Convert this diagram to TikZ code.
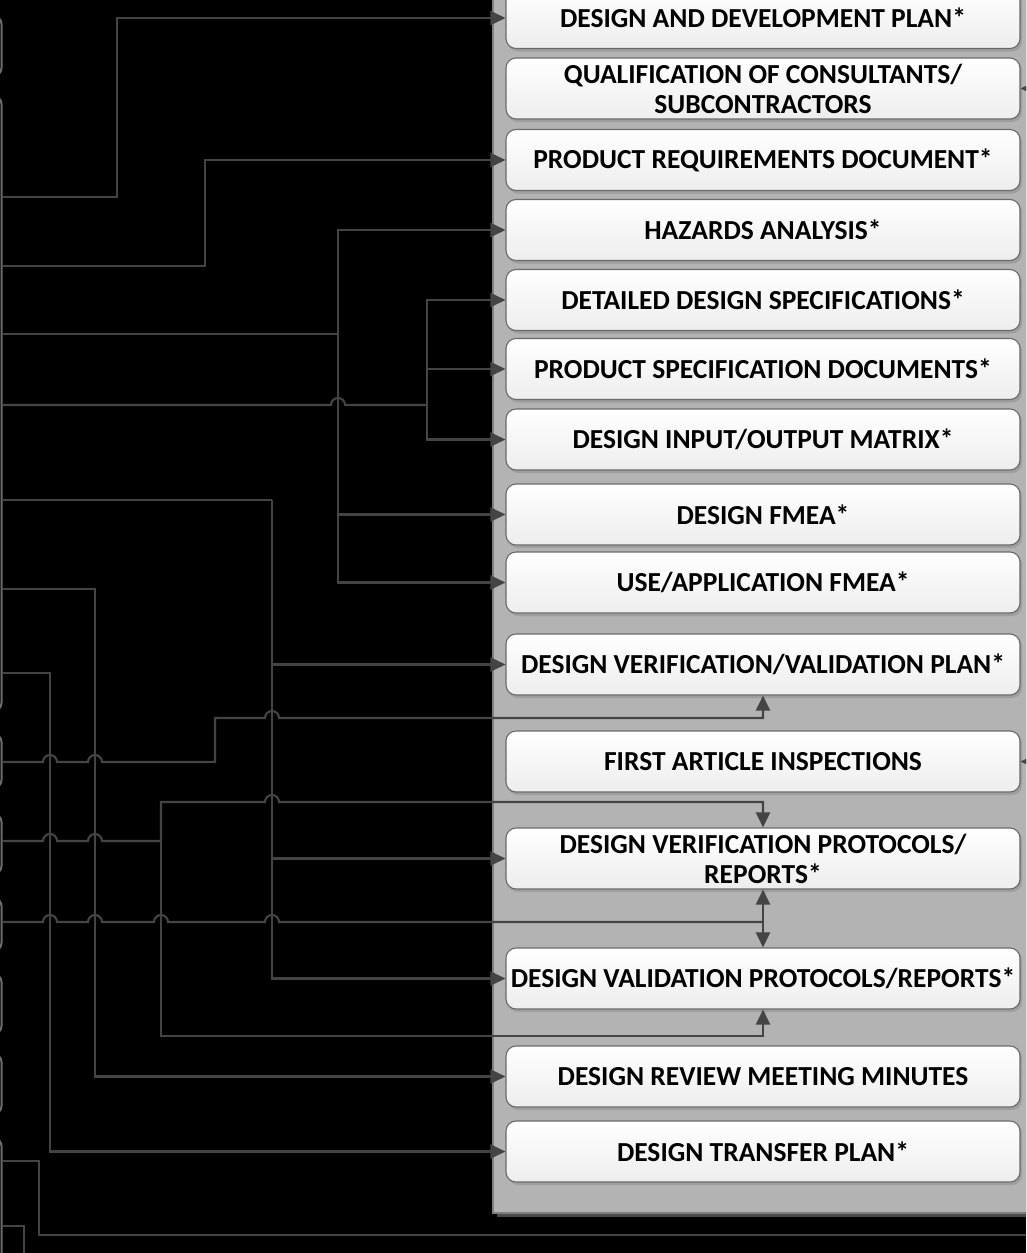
\documentclass[tikz,border=0pt]{standalone}
\usepackage{fontspec}
\setmainfont{Carlito}
\usetikzlibrary{arrows.meta}

\definecolor{wire}{HTML}{444444}
\definecolor{panelfill}{HTML}{B3B3B3}
\definecolor{panelrim}{HTML}{7F7F7F}
\definecolor{panelshade}{HTML}{4A4A4A}
\definecolor{boxrim}{HTML}{6A6A6A}
\definecolor{srcrim}{HTML}{6B6B6B}

\begin{document}
\begin{tikzpicture}[x=1pt,y=-1pt,
  doc/.style={draw=boxrim, line width=1.1pt, rounded corners=10pt,
    top color=white, bottom color=black!7,
    minimum width=514pt, minimum height=61pt, inner sep=0pt,
    align=center, font=\fontsize{27.5}{30}\selectfont\bfseries, text=black},
  docshadow/.style={fill=black!38, rounded corners=10pt},
  srcbox/.style={draw=srcrim, line width=2pt, fill=black, rounded corners=8pt,
    minimum width=200pt, inner sep=0pt, anchor=north east},
  wire/.style={draw=wire, line width=2.1pt},
  arr/.style={-{Triangle[length=15pt,width=14pt]}}]

% canvas
\useasboundingbox (0,0) rectangle (1026,1253);
\clip (0,0) rectangle (1026,1253);
\fill[black] (0,0) rectangle (1026,1253);

% grey container on the right
\fill[panelshade] (497,-10) rectangle (1046,1217);
\filldraw[fill=panelfill, draw=panelrim, line width=1.5pt] (493,-10) rectangle (1042,1213);

% source boxes on the left (only their right edges show)
\node[srcbox, minimum height=60pt]  (l1) at (2.5,15)   {};
\node[srcbox, minimum height=615pt] (l2) at (2.5,95)   {};
\node[srcbox, minimum height=54pt]  (l3) at (2.5,733)  {};
\node[srcbox, minimum height=60pt]  (l4) at (2.5,813)  {};
\node[srcbox, minimum height=53pt]  (l5) at (2.5,897)  {};
\node[srcbox, minimum height=60pt]  (l6) at (2.5,973)  {};
\node[srcbox, minimum height=60pt]  (l7) at (2.5,1053) {};
\node[srcbox, minimum height=160pt] (l8) at (2.5,1137) {};

% document boxes (shadow first)
\foreach \c in {18,88.5,160,230,300,369,439.5,514.5,582.5,664.5,761.5,858.5,978.5,1076.5,1151.5}
  \fill[docshadow] (508,\c-28.5) rectangle (1022,\c+33.5);

\node[doc] (b1)  at (763,18)     {DESIGN AND DEVELOPMENT PLAN*};
\node[doc] (b2)  at (763,88.5)   {QUALIFICATION OF CONSULTANTS/\\SUBCONTRACTORS};
\node[doc] (b3)  at (763,160)    {PRODUCT REQUIREMENTS DOCUMENT*};
\node[doc] (b4)  at (763,230)    {HAZARDS ANALYSIS*};
\node[doc] (b5)  at (763,300)    {DETAILED DESIGN SPECIFICATIONS*};
\node[doc] (b6)  at (763,369)    {PRODUCT SPECIFICATION DOCUMENTS*};
\node[doc] (b7)  at (763,439.5)  {DESIGN INPUT/OUTPUT MATRIX*};
\node[doc] (b8)  at (763,514.5)  {DESIGN FMEA*};
\node[doc] (b9)  at (763,582.5)  {USE/APPLICATION FMEA*};
\node[doc] (b10) at (763,664.5)  {DESIGN VERIFICATION/VALIDATION PLAN*};
\node[doc] (b11) at (763,761.5)  {FIRST ARTICLE INSPECTIONS};
\node[doc] (b12) at (763,858.5)  {DESIGN VERIFICATION PROTOCOLS/\\REPORTS*};
\node[doc] (b13) at (763,978.5)  {DESIGN VALIDATION PROTOCOLS/REPORTS*};
\node[doc] (b14) at (763,1076.5) {DESIGN REVIEW MEETING MINUTES};
\node[doc] (b15) at (763,1151.5) {DESIGN TRANSFER PLAN*};

% junction points and loose ends
\coordinate (jC) at (338,334);
\coordinate (jD) at (427,405);
\coordinate (jE) at (272,500);
\coordinate (jI) at (161,841);
\coordinate (jJ) at (763,922);
\coordinate (outK) at (1050,1235);
\coordinate (outL) at (24,1270);
\coordinate (inQ) at (1050,88.5);
\coordinate (inF) at (1050,761.5);

% connectors
\draw[wire,arr] (l2.east |- 0,197) -- (117,197) |- (b1.west);
\draw[wire,arr] (l2.east |- 0,266) -- (205,266) |- (b3.west);

\draw[wire] (l2.east |- 0,334) -- (jC);
\draw[wire,arr] (jC) |- (b4.west);
\draw[wire,arr] (jC) |- (b8.west);
\draw[wire,arr] (jC) |- (b9.west);

\draw[wire] (l2.east |- 0,405) -- (331,405) arc[start angle=180,end angle=0,radius=7pt] -- (jD);
\draw[wire,arr] (jD) |- (b5.west);
\draw[wire,arr] (jD) |- (b6.west);
\draw[wire,arr] (jD) |- (b7.west);

\draw[wire] (l2.east |- 0,500) -- (jE);
\draw[wire,arr] (jE) |- (b10.west);
\draw[wire,arr] (jE) |- (b12.west);
\draw[wire,arr] (jE) |- (b13.west);

\draw[wire,arr] (l2.east |- 0,589) -- (95,589) |- (b14.west);
\draw[wire,arr] (l2.east |- 0,673) -- (50,673) |- (b15.west);

\draw[wire,arr] (l3.east |- 0,762) -- (43,762) arc[start angle=180,end angle=0,radius=7pt]
  -- (88,762) arc[start angle=180,end angle=0,radius=7pt]
  -- (215,762) -- (215,718) -- (265,718) arc[start angle=180,end angle=0,radius=7pt]
  -- (763,718) -- (b10.south);

\draw[wire] (l4.east |- 0,841) -- (43,841) arc[start angle=180,end angle=0,radius=7pt]
  -- (88,841) arc[start angle=180,end angle=0,radius=7pt] -- (jI);
\draw[wire,arr] (jI) -- (161,802) -- (265,802) arc[start angle=180,end angle=0,radius=7pt]
  -- (763,802) -- (b12.north);
\draw[wire,arr] (jI) -- (161,1036) -| (b13.south);

\draw[wire] (l5.east |- 0,922) -- (43,922) arc[start angle=180,end angle=0,radius=7pt]
  -- (88,922) arc[start angle=180,end angle=0,radius=7pt]
  -- (154,922) arc[start angle=180,end angle=0,radius=7pt]
  -- (265,922) arc[start angle=180,end angle=0,radius=7pt] -- (jJ);
\draw[wire,arr] (jJ) -- (b12.south);
\draw[wire,arr] (jJ) -- (b13.north);

\draw[wire] (l8.east |- 0,1161) -- (39,1161) |- (outK);
\draw[wire] (l8.east |- 0,1226) -- (24,1226) -- (outL);

\draw[wire,arr] (inQ) -- (b2.east);
\draw[wire,arr] (inF) -- (b11.east);
\end{tikzpicture}
\end{document}
